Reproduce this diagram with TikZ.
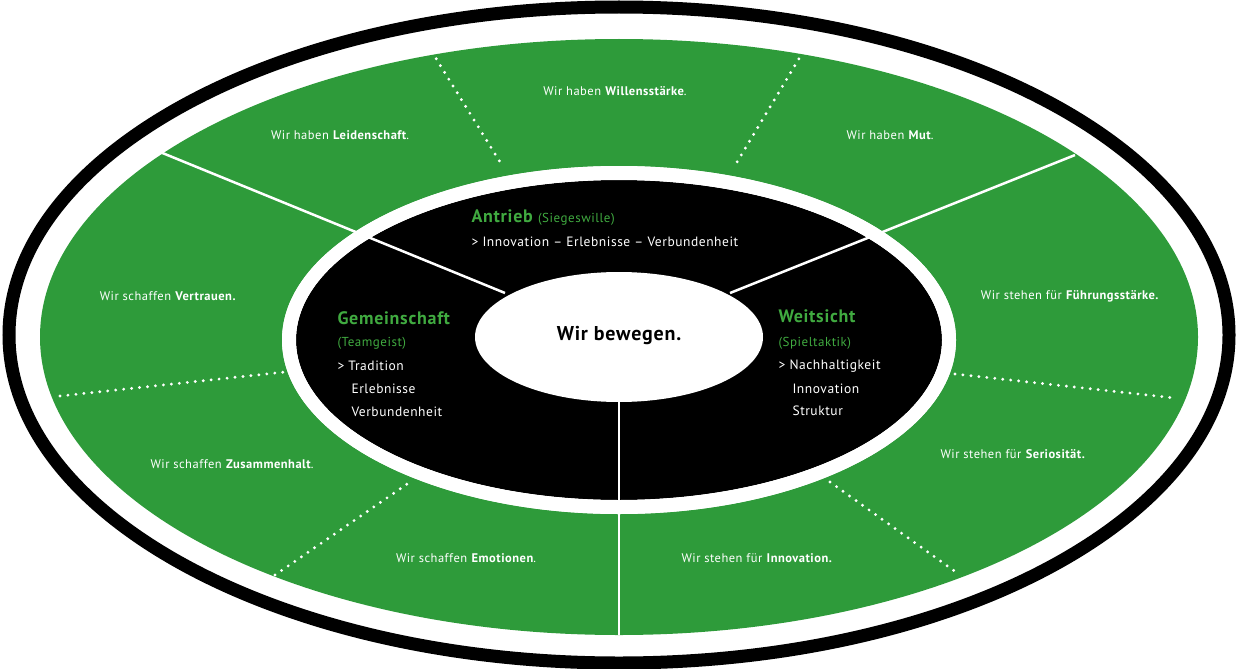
\documentclass[tikz,border=0pt]{standalone}
\usepackage{fontspec}
\setmainfont{PT Sans}[LetterSpace=4]
\definecolor{ringgreen}{RGB}{46,155,58}
\definecolor{headgreen}{RGB}{64,170,64}
\tikzset{
  seg/.style={white,line width=2.5pt},
  dots/.style={white,line width=3.2pt,line cap=round,dash pattern=on 0pt off 8pt},
  claim/.style={white,font=\fontsize{12.5}{14}\selectfont},
  head/.style={headgreen,anchor=west,font=\fontsize{18}{20}\selectfont\bfseries},
  sub/.style={headgreen,anchor=west,font=\fontsize{13}{15}\selectfont},
  item/.style={white,anchor=west,font=\fontsize{13.5}{15}\selectfont}
}
\begin{document}
\begin{tikzpicture}[x=1pt,y=-1pt]
  \useasboundingbox (0,0) rectangle (1239,669);
  % rings
  \draw[line width=13pt] (619,335) ellipse [x radius=610,y radius=328];
  \fill[ringgreen] (619,337) ellipse [x radius=579,y radius=298];
  \fill[white] (619,340) ellipse [x radius=337,y radius=174];
  \fill[black] (619,340) ellipse [x radius=323,y radius=160];
  % solid dividers
  \draw[seg] (160,152) -- (505,293);
  \draw[seg] (1075,155) -- (730,293);
  \draw[seg] (619,400) -- (619,635);
  \fill[white] (619,340) ellipse [x radius=323,y radius=160] [even odd rule] (619,340) ellipse [x radius=337,y radius=174];
  \fill[white] (619,337) ellipse [x radius=144,y radius=65];
  % dotted dividers
  \draw[dots] (432,52) -- (500,162);
  \draw[dots] (803,52) -- (737,162);
  \draw[dots] (60,396) -- (285,372);
  \draw[dots] (955,374) -- (1175,398);
  \draw[dots] (275,575) -- (410,482);
  \draw[dots] (830,482) -- (960,575);
  % outer claims
  \node[claim] (wil) at (615,91) {Wir haben \textbf{Willensstärke}.};
  \node[claim] (lei) at (340,135) {Wir haben \textbf{Leidenschaft}.};
  \node[claim] (mut) at (890,135) {Wir haben \textbf{Mut}.};
  \node[claim] (ver) at (168,296) {Wir schaffen \textbf{Vertrauen.}};
  \node[claim] (fue) at (1070,296) {Wir stehen für \textbf{Führungsstärke.}};
  \node[claim] (zus) at (232,464) {Wir schaffen \textbf{Zusammenhalt}.};
  \node[claim] (ser) at (1013,454) {Wir stehen für \textbf{Seriosität.}};
  \node[claim] (emo) at (466,558) {Wir schaffen \textbf{Emotionen}.};
  \node[claim] (inn) at (757,558) {Wir stehen für \textbf{Innovation.}};
  % inner sectors
  \node[head] (antrieb) at (468,218) {Antrieb \mdseries\fontsize{13}{15}\selectfont(Siegeswille)};
  \node[item] (antriebtxt) at (468,242) {> Innovation – Erlebnisse – Verbundenheit};
  \node[head] (gem) at (334,318) {Gemeinschaft};
  \node[sub] (gemsub) at (334,343) {(Teamgeist)};
  \node[item] (gem1) at (334,366) {> Tradition};
  \node[item] (gem2) at (348,389) {Erlebnisse};
  \node[item] (gem3) at (348,412) {Verbundenheit};
  \node[head] (weit) at (775,316) {Weitsicht};
  \node[sub] (weitsub) at (775,343) {(Spieltaktik)};
  \node[item] (weit1) at (775,366) {> Nachhaltigkeit};
  \node[item] (weit2) at (789,389) {Innovation};
  \node[item] (weit3) at (789,411) {Struktur};
  \node[font=\fontsize{20}{22}\selectfont\bfseries] (core) at (619,336) {Wir bewegen.};
\end{tikzpicture}
\end{document}
